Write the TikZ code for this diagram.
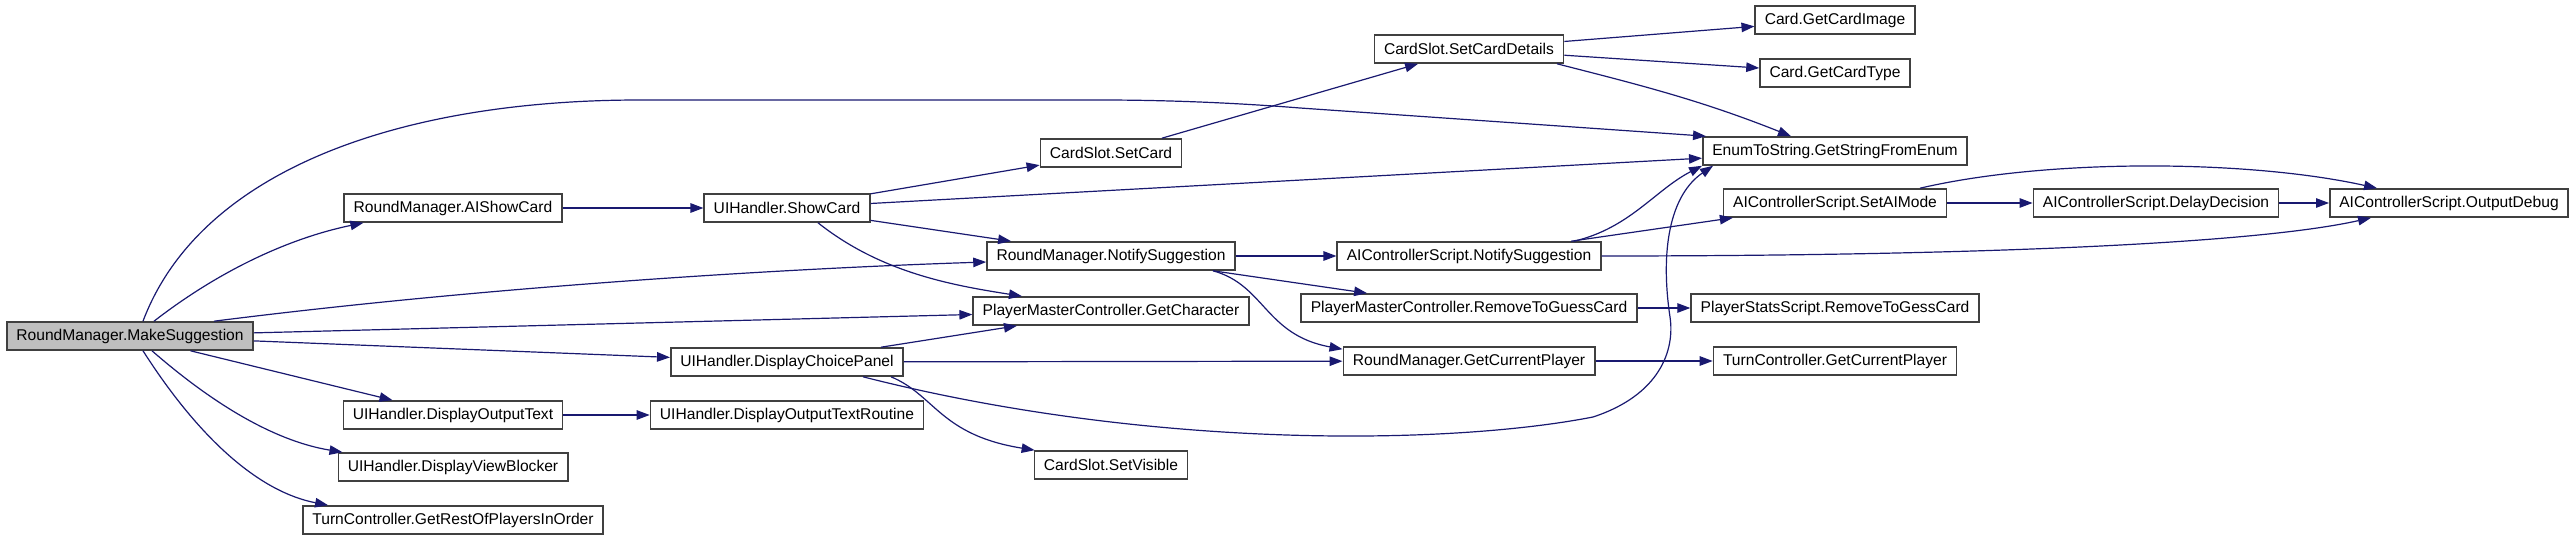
\documentclass[tikz,border=0pt]{standalone}
\usepackage{fontspec}
\setmainfont{Liberation Sans}
\usetikzlibrary{arrows.meta}
\definecolor{callblue}{HTML}{191970}
\tikzset{
  fnbox/.style={rectangle,draw=black!75,line width=1.6pt,fill=white,minimum height=28pt,inner xsep=9.5pt,inner ysep=0pt,font=\fontsize{15.6}{18}\selectfont},
  fnroot/.style={fnbox,fill=black!25},
  callarc/.style={->,draw=callblue,line width=1.2pt}
}

\begin{document}
\begin{tikzpicture}[x=1pt,y=-1pt,>={Triangle[length=13pt,width=9.5pt]}]
  \useasboundingbox (0,0) rectangle (2575,540);
  \node[fnroot] (ms) at (130,336) {RoundManager.MakeSuggestion};
  \node[fnbox] (aisc) at (453,208) {RoundManager.AIShowCard};
  \node[fnbox] (dout) at (453,415) {UIHandler.DisplayOutputText};
  \node[fnbox] (dvb) at (453,467) {UIHandler.DisplayViewBlocker};
  \node[fnbox] (rest) at (453,520) {TurnController.GetRestOfPlayersInOrder};
  \node[fnbox] (show) at (787,208) {UIHandler.ShowCard};
  \node[fnbox] (dcp) at (787,362) {UIHandler.DisplayChoicePanel};
  \node[fnbox] (doutr) at (787,415) {UIHandler.DisplayOutputTextRoutine};
  \node[fnbox] (setcard) at (1111,153) {CardSlot.SetCard};
  \node[fnbox] (rmns) at (1111,256) {RoundManager.NotifySuggestion};
  \node[fnbox] (getchar) at (1111,311) {PlayerMasterController.GetCharacter};
  \node[fnbox] (setvis) at (1111,465) {CardSlot.SetVisible};
  \node[fnbox] (scd) at (1469,49) {CardSlot.SetCardDetails};
  \node[fnbox] (acns) at (1469,256) {AIControllerScript.NotifySuggestion};
  \node[fnbox] (rtg) at (1469,308) {PlayerMasterController.RemoveToGuessCard};
  \node[fnbox] (rmgcp) at (1469,361) {RoundManager.GetCurrentPlayer};
  \node[fnbox] (cimg) at (1835,20) {Card.GetCardImage};
  \node[fnbox] (ctype) at (1835,73) {Card.GetCardType};
  \node[fnbox] (enum) at (1835,151) {EnumToString.GetStringFromEnum};
  \node[fnbox] (setai) at (1835,203) {AIControllerScript.SetAIMode};
  \node[fnbox] (stats) at (1835,308) {PlayerStatsScript.RemoveToGessCard};
  \node[fnbox] (tcgcp) at (1835,361) {TurnController.GetCurrentPlayer};
  \node[fnbox] (delay) at (2156,203) {AIControllerScript.DelayDecision};
  \node[fnbox] (outdbg) at (2449,203) {AIControllerScript.OutputDebug};
  % calls of the root
  \draw[callarc] ([xshift=13pt]ms.north) .. controls (200,170) and (400,100) .. (640,100) -- (1100,100) .. controls (1180,100) and (1250,104) .. (1300,108) -- ([xshift=4pt]enum.north west);
  \draw[callarc] ([xshift=24pt]ms.north) .. controls (220,270) and (290,238) .. ([xshift=20pt]aisc.south west);
  \draw[callarc] ([xshift=84pt]ms.north) .. controls (500,285) and (800,268) .. ([yshift=-6pt]rmns.west);
  \draw[callarc] (ms)--(getchar);
  \draw[callarc] (ms)--(dcp);
  \draw[callarc] (ms)--(dout);
  \draw[callarc] ([xshift=22pt]ms.south) .. controls (220,410) and (280,442) .. ([xshift=5pt]dvb.north west);
  \draw[callarc] ([xshift=13pt]ms.south) .. controls (200,440) and (260,492) .. ([xshift=26pt]rest.north west);
  % second level
  \draw[callarc] (aisc)--(show);
  \draw[callarc] (show)--(setcard);
  \draw[callarc] (show)--(enum);
  \draw[callarc] (show)--(rmns);
  \draw[callarc] ([xshift=31pt]show.south) .. controls (880,272) and (950,285) .. ([xshift=-89pt]getchar.north);
  \draw[callarc] (dcp)--(getchar);
  \draw[callarc] (dcp)--(rmgcp);
  \draw[callarc] ([xshift=104pt]dcp.south) .. controls (935,395) and (940,435) .. ([xshift=1pt]setvis.north west);
  \draw[callarc] ([xshift=76pt]dcp.south) .. controls (1150,450) and (1450,445) .. (1593,417) .. controls (1660,395) and (1675,350) .. (1670,317) .. controls (1660,250) and (1670,195) .. ([xshift=11pt]enum.south west);
  \draw[callarc] (dout)--(doutr);
  % third level
  \draw[callarc] (setcard)--(scd);
  \draw[callarc] (rmns)--(acns);
  \draw[callarc] (rmns)--(rtg);
  \draw[callarc] ([xshift=102pt]rmns.south) .. controls (1265,285) and (1265,335) .. ([yshift=-3pt]rmgcp.north west);
  \draw[callarc] (scd)--(cimg);
  \draw[callarc] (scd)--(ctype);
  \draw[callarc] ([xshift=88pt]scd.south) .. controls (1640,85) and (1700,100) .. ([xshift=-44pt]enum.north);
  \draw[callarc] ([xshift=105pt]acns.north) .. controls (1630,228) and (1655,190) .. (enum.south west);
  \draw[callarc] (acns)--(setai);
  \draw[callarc] (acns.east) .. controls (1950,256) and (2250,245) .. ([xshift=-78pt]outdbg.south);
  \draw[callarc] (rtg)--(stats);
  \draw[callarc] (rmgcp)--(tcgcp);
  % last level
  \draw[callarc] (setai)--(delay);
  \draw[callarc] ([xshift=85pt]setai.north) .. controls (2050,158) and (2250,160) .. ([xshift=-72pt]outdbg.north);
  \draw[callarc] (delay)--(outdbg);
\end{tikzpicture}
\end{document}
